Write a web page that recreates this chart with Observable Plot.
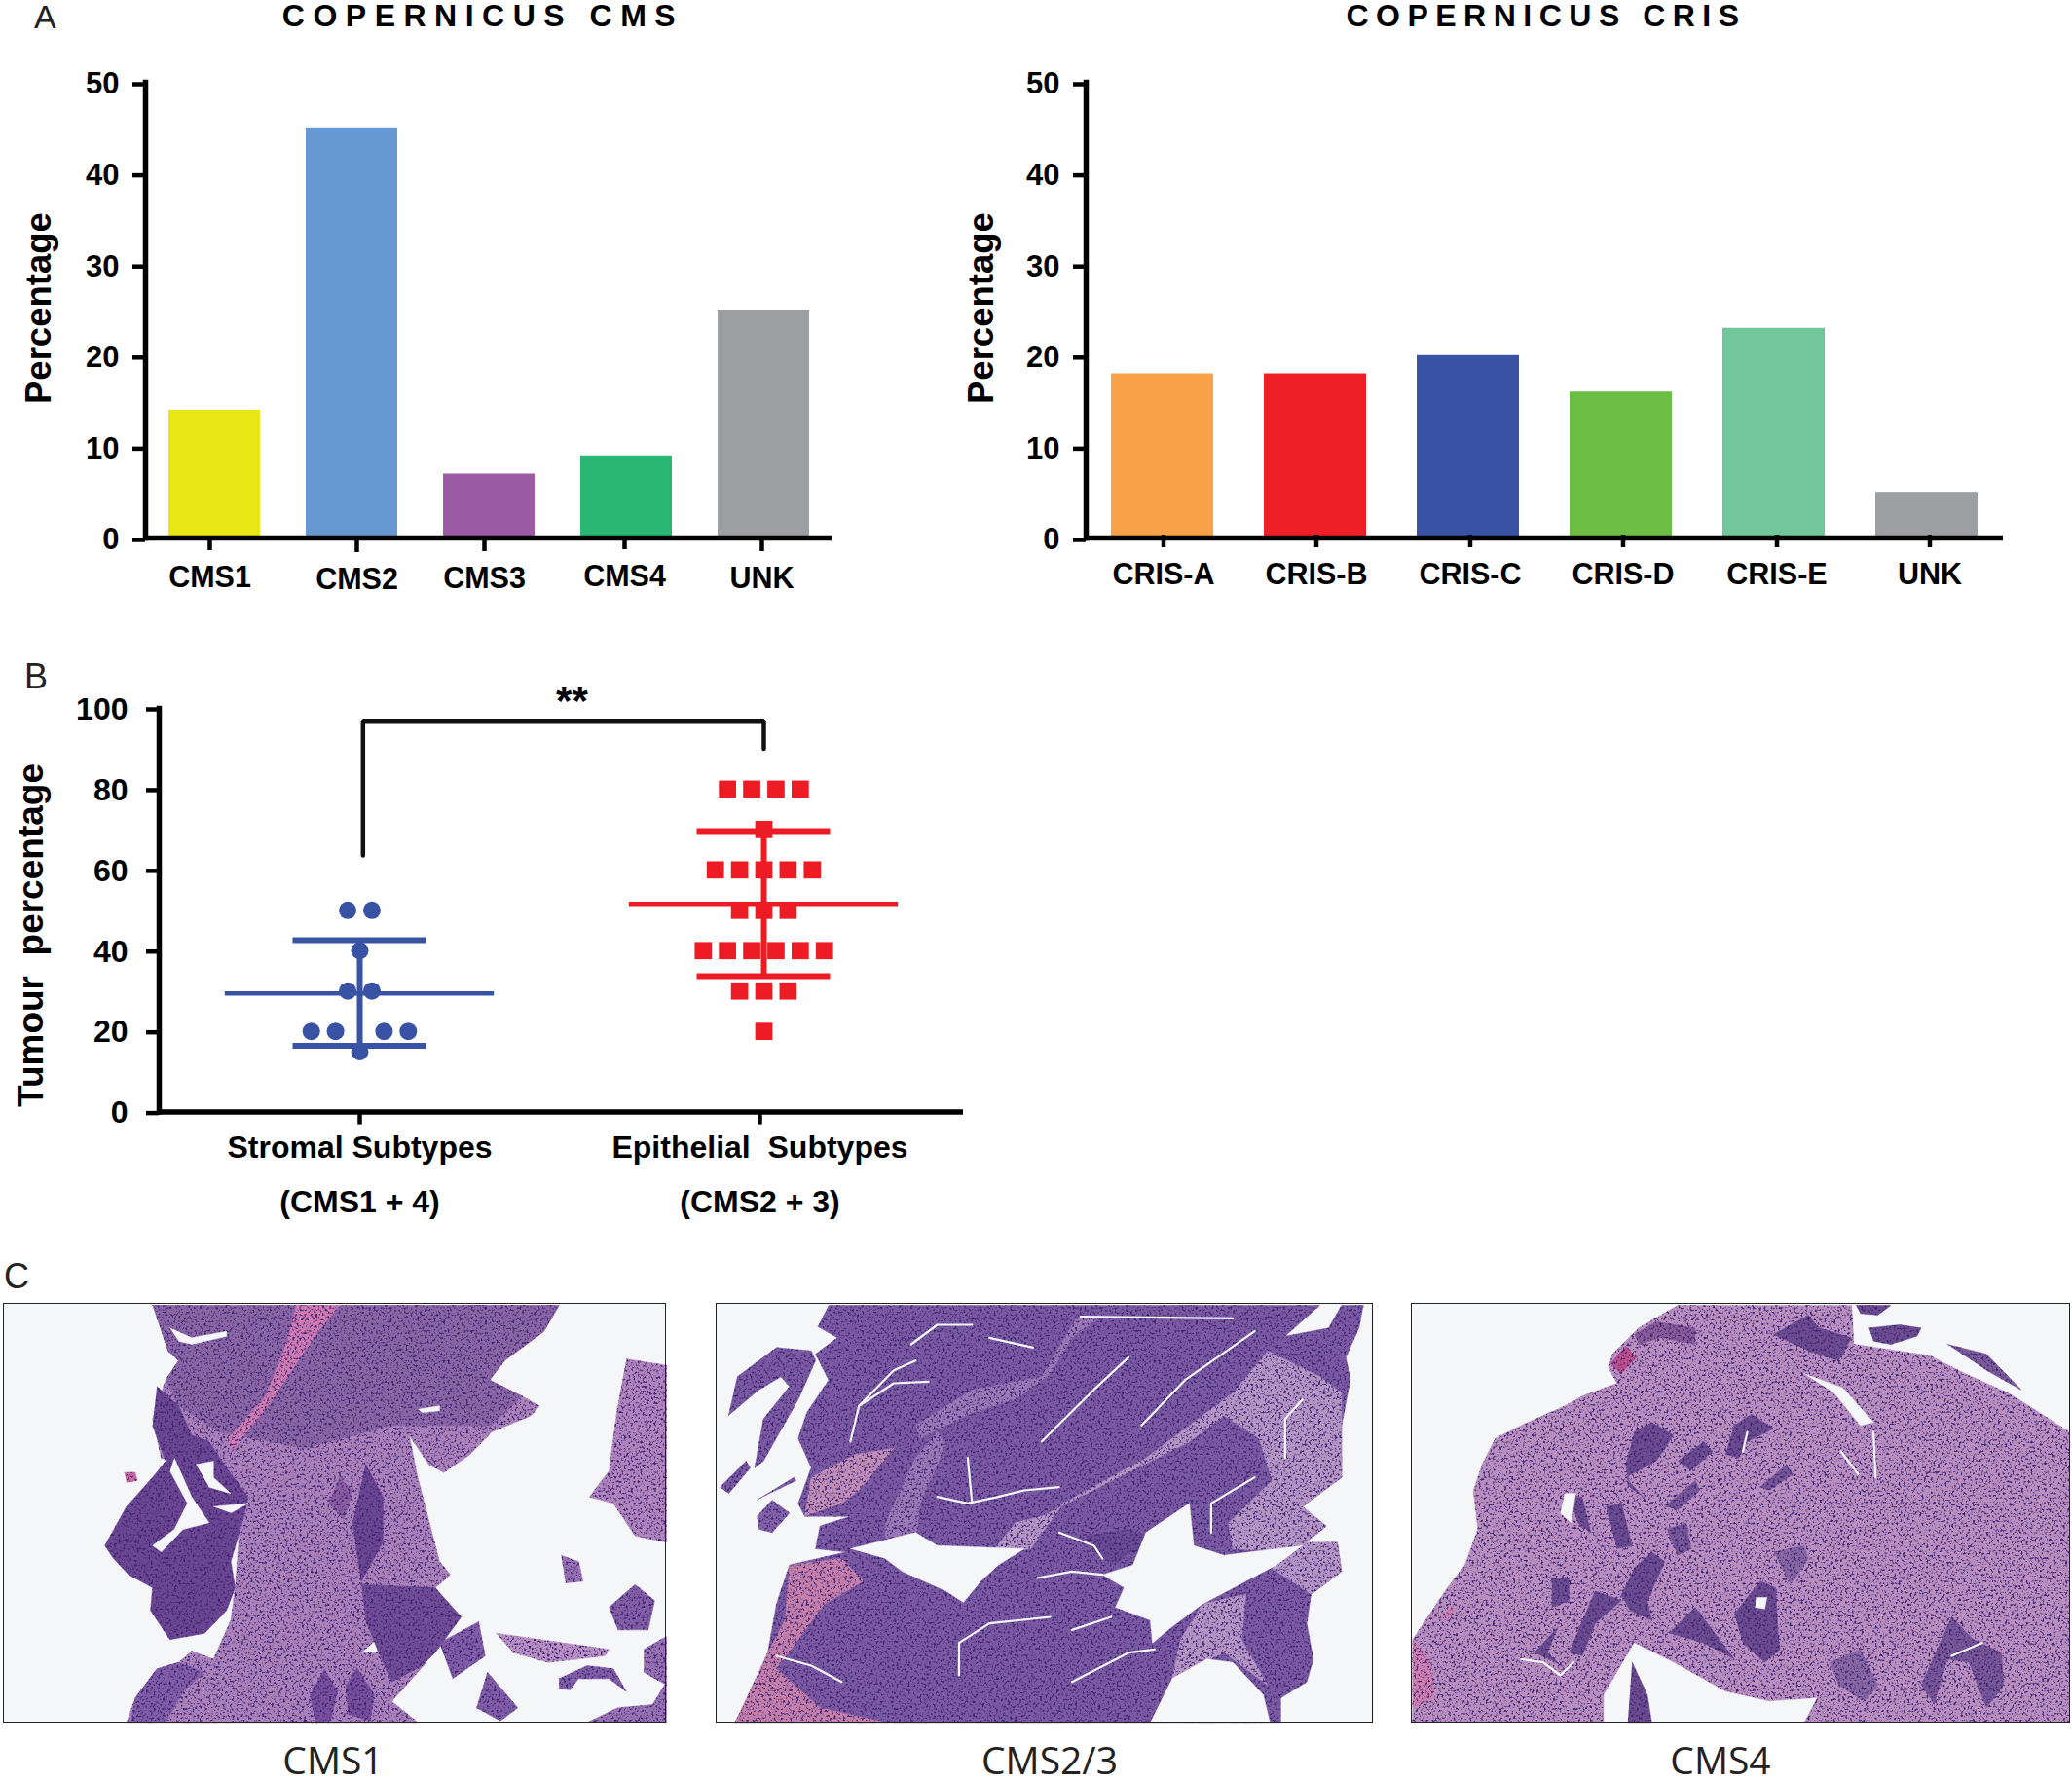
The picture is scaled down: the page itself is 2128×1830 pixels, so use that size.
<!DOCTYPE html>
<html>
<head>
<meta charset="utf-8">
<script src="https://cdn.jsdelivr.net/npm/d3@7"></script>
<script src="https://cdn.jsdelivr.net/npm/@observablehq/plot@0.6"></script>
<style>
html,body{margin:0;padding:0;background:#fff;width:2128px;height:1830px;overflow:hidden}
#page{position:relative;width:2128px;height:1830px}
#page>svg,#page>div{position:absolute}
.title{font:700 32px "Liberation Sans",sans-serif;white-space:pre;line-height:24px;transform:translateX(-50%)}
.tag{font:400 36px "Liberation Sans",sans-serif;color:#222;line-height:26px}
.tagA{font:400 34px "Liberation Sans",sans-serif;color:#222;line-height:26px}
.cap{font:400 39px "Open Sans",sans-serif;color:#222;line-height:40px;transform:translateX(-50%)}
</style>
</head>
<body>
<div id="page"></div>
<script>
// ---------- Panel A data ----------
const cmsCategories = ["CMS1", "CMS2", "CMS3", "CMS4", "UNK"];
const cmsValues = [14, 45, 7, 9, 25];
const cmsColors = ["#e9e615", "#6898d2", "#9d5ba6", "#2bb673", "#9d9fa2"];
const crisCategories = ["CRIS-A", "CRIS-B", "CRIS-C", "CRIS-D", "CRIS-E", "UNK"];
const crisValues = [18, 18, 20, 16, 23, 5];
const crisColors = ["#f9a146", "#ee1f26", "#3953a4", "#6dbe45", "#71c69c", "#9d9fa2"];
const percentTicks = [0, 10, 20, 30, 40, 50];

// ---------- Panel B data (value, slot within the row of a beeswarm) ----------
const stromalValues = [50, 50, 40, 30, 30, 20, 20, 20, 20, 15];
const stromalSlots = [-0.5, 0.5, 0, -0.5, 0.5, -2, -1, 1, 2, 0];
const epithelialValues = [80, 80, 80, 80, 70, 60, 60, 60, 60, 60, 50, 50, 50, 40, 40, 40, 40, 40, 40, 30, 30, 30, 20];
const epithelialSlots = [-1.5, -0.5, 0.5, 1.5, 0, -2, -1, 0, 1, 2, -1, 0, 1, -2.5, -1.5, -0.5, 0.5, 1.5, 2.5, -1, 0, 1, 0];
const groupMeans = [29.4, 51.6];
const groupLower = [16.4, 33.7];
const groupUpper = [42.6, 69.6];
const groupLine1 = ["Stromal Subtypes", "Epithelial  Subtypes"];
const groupLine2 = ["(CMS1 + 4)", "(CMS2 + 3)"];
const tumourTicks = [0, 20, 40, 60, 80, 100];
const bracketPath = [[0.008, 63.6], [0.008, 96.9], [1, 96.9], [1, 90]];

// ---------- Panel C: sketched tissue outlines (crop units) ----------
const cms1Regions = [
  ["#ab82ba", [350,30,1285,30,1250,110,1160,200,1125,260,1200,310,1240,340,1220,370,1130,420,1080,490,1020,545,985,520,940,430,960,560,1010,820,1035,860,1000,900,830,1100,960,1100,980,1130,900,1250,960,1315,290,1315,310,1240,360,1150,410,1130,440,1095,490,1120,530,1000,540,900,550,720,570,620,500,520,370,500,350,380,380,260,410,200,385,170]],
  ["#8b66a6", [350,30,1285,30,1250,110,1160,200,1125,260,1200,310,1130,400,900,400,700,470,500,420,410,340,380,260,410,200,385,170]],
  ["#cf7cb2", [680,30,780,30,730,110,650,270,610,350,530,480,525,440,610,310,660,140]],
  ["#6b4693", [360,280,410,340,440,430,480,450,520,530,570,620,560,680,530,820,540,900,520,970,470,1040,390,1060,345,970,350,900,295,860,260,810,240,770,290,650,350,560,380,510,350,400]],
  ["#6b4693", [840,520,880,620,880,760,830,880,810,700]],
  ["#714d98", [830,890,1000,900,1060,990,1000,1100,970,1140,900,1190,870,1100,840,1000]],
  ["#8a5ca1", [780,560,810,600,790,690,755,640]],
  ["#774f9c", [745,1150,775,1220,760,1310,725,1315,712,1230]],
  ["#774f9c", [820,1145,860,1230,850,1310,800,1290,795,1200]],
  ["#b185bd", [1440,195,1532,215,1532,760,1460,740,1410,640,1355,620,1400,540,1420,340]],
  ["#845fa6", [1400,960,1460,890,1505,940,1490,1030,1420,1030]],
  ["#b890c3", [1140,1040,1400,1090,1390,1110,1260,1130,1180,1100]],
  ["#805da6", [1010,1070,1100,1005,1115,1110,1040,1180]],
  ["#805da6", [1120,1160,1190,1270,1150,1310,1095,1270]],
  ["#805da6", [1285,1180,1350,1140,1410,1150,1440,1220,1400,1180,1330,1180,1310,1215,1285,1210]],
  ["#9871b3", [1480,1090,1532,1050,1532,1200,1480,1160]],
  ["#9871b3", [1290,800,1330,820,1340,880,1300,885]],
  ["#9871b3", [1350,1315,1420,1270,1500,1260,1532,1190,1532,1315]],
  ["#805da6", [300,1315,310,1240,360,1150,410,1130,470,1160,420,1220,380,1315]],
  ["#cc68a2", [285,545,310,545,315,570,290,575]]
];
const cms1Gaps = [
  [400,500,440,620,480,700,420,720,370,790,350,770,400,720,430,640,390,540],
  [490,650,570,640,530,670],
  [450,520,490,510,490,560,530,610,480,590],
  [960,350,1010,340,1010,355,970,360],
  [390,100,440,130,520,110,520,125,440,150,410,140]
];
const cms2Regions = [
  ["#7a5aa2", [270,30,1400,30,1320,125,1420,100,1450,30,1500,30,1490,100,1460,190,1470,260,1450,400,1450,560,1360,650,1415,710,1340,790,1440,760,1450,850,1380,920,1370,1010,1385,1120,1370,1190,1310,1240,1310,1315,55,1315,100,1200,130,1100,150,950,180,830,310,790,240,780,250,710,320,680,215,680,200,640,230,530,200,440,220,360,270,260,240,180,290,130,245,95]],
  ["#b596c5", [1280,170,1400,250,1450,300,1450,560,1360,650,1415,710,1340,790,1200,780,1190,700,1290,570,1260,440,1180,370,1100,450,760,680,700,700,640,800,735,780,810,640,1000,500,1200,300]],
  ["#c580ab", [55,1315,130,1100,170,1000,180,830,300,810,350,880,260,950,150,1150,250,1270,400,1315]],
  ["#c08eb6", [215,680,230,560,330,490,420,470,340,600,300,640]],
  ["#b596c5", [1060,1180,1080,1060,1130,950,1230,920,1220,1060,1280,1200,1180,1100]],
  ["#9a7ab6", [760,250,840,70,900,60,830,130,780,240,700,320,600,360,480,440,470,400,600,290]],
  ["#9a7ab6", [400,700,470,500,520,420,540,460,480,640,470,760,400,760]],
  ["#b596c5", [1290,760,1440,760,1450,850,1380,920,1290,840]],
  ["#7a5aa2", [40,370,60,250,150,160,230,170,240,200,200,320,120,510,100,530,120,380,180,280,160,250,110,290]],
  ["#7a5aa2", [20,590,80,510,90,530,40,610]],
  ["#7a5aa2", [105,630,190,560,195,570,110,625]],
  ["#8263a8", [105,680,140,630,180,670,140,730,110,720]],
  ["#684a95", [860,740,960,720,1060,770,1055,810,960,790,930,830,880,790]],
  ["#684a95", [960,850,1010,830,1015,880,975,895]]
];
const cms2Gaps = [
  [320,780,470,730,520,770,720,780,660,830,620,880,580,945,540,910,440,850,400,810],
  [900,860,970,830,1000,730,1100,640,1110,770,1180,800,1360,770,1300,830,1130,950,1060,1020,1015,1070,1010,1000,930,960,950,900],
  [1060,1180,1140,1120,1200,1130,1270,1230,1285,1315,1010,1315]
];
const cms2Cracks = [
  [320,450,340,340,420,270,500,265],
  [340,340,420,230,470,200],
  [990,400,1090,260,1250,110],
  [760,450,880,290,960,190],
  [1320,500,1320,380,1360,320],
  [520,620,590,640,660,620,720,600,800,590],
  [590,500,600,640],
  [750,870,830,850,900,860],
  [150,1110,230,1140,300,1190],
  [570,1170,570,1070,640,1010,780,990],
  [830,1030,920,990],
  [830,1190,960,1100,1020,1090],
  [640,130,740,160],
  [850,65,1200,70],
  [460,150,520,90,600,90],
  [1150,730,1150,640,1250,560],
  [800,730,880,770,900,810]
];
const cms3Regions = [
  ["#ba90c0", [50,1315,50,1060,130,900,170,830,200,720,190,600,210,520,240,440,300,400,400,340,440,310,520,270,500,220,510,180,570,100,660,30,1060,30,1065,150,1240,185,1320,240,1420,300,1480,350,1560,420,1560,1315]],
  ["#d080b0", [50,1270,100,1240,90,1120,50,1060]],
  ["#d080b0", [110,990,150,950,130,1000]],
  ["#c04f8a", [505,210,540,155,565,190,530,240]],
  ["#6b4c90", [880,120,960,60,985,100,1060,130,1030,200,960,170]],
  ["#6b4c90", [1100,100,1170,90,1220,100,1210,125,1150,150,1110,140]],
  ["#6b4c90", [1070,30,1150,30,1120,60,1080,55]],
  ["#7a5b9a", [1280,150,1370,180,1450,290,1370,230]],
  ["#875c98", [560,120,610,80,700,100,700,150,620,130,570,150]],
  ["#6b4c90", [560,420,600,390,650,430,610,510,540,560,580,620,550,590,540,520]],
  ["#6b4c90", [660,510,720,450,740,480,690,540]],
  ["#6b4c90", [770,490,790,400,830,365,880,410,820,450,800,500]],
  ["#775798", [850,590,910,520,925,550,870,600]],
  ["#775798", [630,650,700,570,710,600,660,660]],
  ["#6b4c90", [495,650,530,640,555,770,520,780]],
  ["#6b4c90", [410,620,440,620,460,730,430,700]],
  ["#775798", [635,720,680,700,690,780,660,800]],
  ["#8767a4", [880,790,950,770,960,810,920,890]],
  ["#6b4c90", [560,840,600,790,630,820,590,940,600,1000,550,970,530,920]],
  ["#6b4c90", [370,870,410,870,410,940,370,960]],
  ["#6b4c90", [410,1100,470,910,530,940,470,1010,440,1110]],
  ["#6b4c90", [330,1100,385,1020,360,1100,400,1150,380,1130]],
  ["#6b4c90", [640,1040,700,960,790,1120,720,1070]],
  ["#6b4c90", [790,980,850,880,885,900,890,1030,895,1090,860,1130,810,1070]],
  ["#775798", [1220,1200,1290,990,1340,1060,1405,1100,1410,1200,1370,1270,1330,1130,1280,1120,1250,1260]],
  ["#8767a4", [1010,1130,1080,1090,1120,1200,1090,1250,1030,1200]]
];
const cms3Gaps = [
  [490,1315,490,1230,560,1070,650,1130,770,1220,870,1250,980,1240,950,1315],
  [950,240,1040,285,1110,390,1080,400,1020,300],
  [400,610,425,610,415,700,390,670],
  [840,930,865,930,860,965,838,960]
];
const cms3Overlay = [
  ["#6b4c90", [555,1130,590,1230,600,1315,545,1315]]
];
const cms3Cracks = [
  [810,480,820,420],
  [300,1120,350,1130,390,1170,420,1130],
  [1290,1110,1360,1070],
  [1035,480,1075,550],
  [1110,420,1115,560]
];

// ---------- Shared helpers ----------
const page = document.getElementById("page");
const place = (node, left, top) => { node.style.left = left + "px"; node.style.top = top + "px"; page.appendChild(node); return node; };
const label = (cls, txt, left, top, spacing) => { const d = document.createElement("div"); d.className = cls; d.textContent = txt; if (spacing) d.style.letterSpacing = spacing + "px"; place(d, left, top); };
const textStyle = {fontFamily: "'Liberation Sans', Arial, sans-serif", fontWeight: 700, fontSize: "31px", background: "transparent", color: "#000", whiteSpace: "pre", overflow: "visible"};

function barPanel({categories, values, colors, left, width, marginLeft, marginRight, nudgeX, nudgeY, yLabelDx}) {
  const rows = categories.map((c, i) => ({c, v: values[i], col: colors[i]}));
  const svg = Plot.plot({
    width, height: 640, marginTop: 84, marginBottom: 88, marginLeft, marginRight, style: textStyle,
    x: {type: "band", domain: categories, paddingInner: 1/3, paddingOuter: 1/6, label: null},
    y: {domain: [0, 50], label: null},
    color: {type: "identity"},
    marks: [
      Plot.barY(rows, {x: "c", y: "v", fill: "col"}),
      Plot.axisY({ticks: percentTicks, tickSize: 13, tickPadding: 14, strokeWidth: 4.5, dy: 2, label: null}),
      ...categories.map((c, i) => Plot.axisX({ticks: [c], tickSize: 13, tickPadding: 16, strokeWidth: 4.5, fontSize: 30.5, dx: nudgeX[i], dy: nudgeY[i], label: null})),
      Plot.frame({anchor: "left", strokeWidth: 5.5}),
      Plot.ruleY([0], {strokeWidth: 5.5}),
      Plot.text(["Percentage"], {y: () => 25.2, frameAnchor: "left", dx: yLabelDx, rotate: -90, textAnchor: "middle", fontSize: 36.5, fontWeight: 700})
    ]
  });
  place(svg, left, 0);
}

const NS = "http://www.w3.org/2000/svg";
function tissuePanel({regions, gaps, overlay = [], cracks = [], left, right, filterId}) {
  const pts = (flat, id) => d3.range(0, flat.length, 2).map(i => ({x: flat[i], y: flat[i + 1], id}));
  const paper = "#f5f6f7";
  // a line whose stroke is "none" is dropped by Plot, so each outline carries a hairline of its own colour
  const polygon = (r, i) => Plot.line(pts(r[1], i), {x: "x", y: "y", fill: r[0], stroke: r[0], strokeWidth: 0.5});
  const svg = Plot.plot({
    width: 700, height: 450, margin: 0, axis: null,
    x: {domain: [0, 1568], range: [0, 700]},
    y: {domain: [0, 1350], range: [0, 450]},
    style: {background: "transparent"},
    marks: [
      Plot.rect([{}], {x1: () => left, x2: () => right, y1: () => 28, y2: () => 1316, fill: paper, stroke: "none"}),
      ...regions.map(polygon),
      ...gaps.map((g, i) => Plot.line(pts(g, i), {x: "x", y: "y", fill: paper, stroke: paper, strokeWidth: 0.5})),
      ...overlay.map(polygon),
      Plot.line(cracks.flatMap((f, i) => pts(f, i)), {x: "x", y: "y", z: "id", stroke: paper, strokeWidth: 2.2})
    ]
  });
  const defs = document.createElementNS(NS, "defs");
  defs.innerHTML = `<filter id="${filterId}" filterUnits="userSpaceOnUse" x="0" y="0" width="700" height="450" color-interpolation-filters="sRGB">
    <feTurbulence type="fractalNoise" baseFrequency="0.42" numOctaves="2" seed="7" result="n"/>
    <feColorMatrix in="n" type="matrix" values="0 0 0 0 0.24  0 0 0 0 0.14  0 0 0 0 0.44  5 0 0 0 -2.6" result="d"/>
    <feComposite in="d" in2="SourceAlpha" operator="in" result="dots"/>
    <feMerge><feMergeNode in="SourceGraphic"/><feMergeNode in="dots"/></feMerge>
  </filter>`;
  svg.insertBefore(defs, svg.firstChild);
  svg.querySelectorAll('g[aria-label="line"]').forEach(g => {
    const f = g.getAttribute("fill");
    if (f && f !== paper && f !== "none") g.setAttribute("filter", `url(#${filterId})`);
  });
  return svg;
}

// ---------- Panel A ----------
barPanel({categories: cmsCategories, values: cmsValues, colors: cmsColors, left: 0, width: 900, marginLeft: 149, marginRight: 46,
  nudgeX: [-5, 5, -5, -2, -2], nudgeY: [0, 2, 1, -1, 1], yLabelDx: -109});
barPanel({categories: crisCategories, values: crisValues, colors: crisColors, left: 960, width: 1168, marginLeft: 155, marginRight: 71,
  nudgeX: [1, 1, 2, 2, 3, 3], nudgeY: [-3, -3, -3, -3, -3, -3], yLabelDx: -107});
label("title", "COPERNICUS CMS", 496, 4, 8.5);
label("title", "COPERNICUS CRIS", 1588, 4, 7.5);
label("tagA", "A", 35, 4);
label("tag", "B", 25, 682);
label("tag", "C", 4, 1298);

// ---------- Panel B ----------
const slotWidth = 0.06;
const groupX = [0, 1];
const stromal = stromalValues.map((v, i) => ({x: slotWidth * stromalSlots[i], v}));
const epithelial = epithelialValues.map((v, i) => ({x: 1 + slotWidth * epithelialSlots[i], v}));
const blue = "#3953a4", red = "#ed1c24";
const summary = (g, color) => [
  Plot.ruleY([groupMeans[g]], {x1: groupX[g] - 0.333, x2: groupX[g] + 0.333, stroke: color, strokeWidth: 4.5}),
  Plot.ruleY([groupLower[g], groupUpper[g]], {x1: groupX[g] - 0.165, x2: groupX[g] + 0.165, stroke: color, strokeWidth: 6}),
  Plot.ruleX([groupX[g]], {y1: groupLower[g], y2: groupUpper[g], stroke: color, strokeWidth: 6})
];
const bracket = bracketPath.map(([x, y]) => ({x, y}));
const svgB = Plot.plot({
  width: 1064, height: 640, marginTop: 67, marginBottom: 158.4, marginLeft: 163, marginRight: 75, style: textStyle,
  x: {domain: [-206 / 415, 620 / 415], label: null},
  y: {domain: [0, 100], label: null},
  marks: [
    ...summary(0, blue),
    ...summary(1, red),
    Plot.dot(stromal, {x: "x", y: "v", r: 9, fill: blue, symbol: "circle"}),
    Plot.dot(epithelial, {x: "x", y: "v", r: 10, fill: red, symbol: "square"}),
    Plot.line(bracket, {x: "x", y: "y", stroke: "#111", strokeWidth: 4.5, curve: "linear", strokeLinejoin: "miter"}),
    Plot.text(["**"], {x: () => 0.525, y: () => 98.5, lineAnchor: "bottom", fontSize: 42, fontWeight: 700}),
    Plot.axisY({ticks: tumourTicks, tickSize: 13, tickPadding: 19, strokeWidth: 4.5, fontSize: 32, dy: 1, label: null}),
    Plot.axisX({ticks: [0], tickFormat: () => groupLine1[0], tickSize: 13, tickPadding: 11, strokeWidth: 4.5, fontSize: 32, label: null}),
    Plot.axisX({ticks: [1], tickFormat: () => groupLine1[1], tickSize: 13, tickPadding: 11, strokeWidth: 4.5, dx: -4, fontSize: 32, label: null}),
    Plot.axisX({ticks: [0], tickFormat: () => groupLine2[0], tickSize: 0, tickPadding: 80, fontSize: 32, label: null}),
    Plot.axisX({ticks: [1], tickFormat: () => groupLine2[1], tickSize: 0, tickPadding: 80, dx: -4, fontSize: 32, label: null}),
    Plot.frame({anchor: "left", strokeWidth: 5.5}),
    Plot.ruleY([0], {strokeWidth: 5.5}),
    Plot.text(["Tumour  percentage"], {y: () => 43.8, frameAnchor: "left", dx: -131, rotate: -90, textAnchor: "middle", fontSize: 37, fontWeight: 700})
  ]
});
place(svgB, 0, 660);

// ---------- Panel C ----------
place(tissuePanel({regions: cms1Regions, gaps: cms1Gaps, left: 8, right: 1532, filterId: "grain1"}), 0, 1330);
place(tissuePanel({regions: cms2Regions, gaps: cms2Gaps, cracks: cms2Cracks, left: 12, right: 1525, filterId: "grain2"}), 730, 1330);
place(tissuePanel({regions: cms3Regions, gaps: cms3Gaps, overlay: cms3Overlay, cracks: cms3Cracks, left: 50, right: 1560, filterId: "grain3"}), 1428, 1330);
[[3, 681], [735, 675], [1449, 677]].forEach(([l, w]) => {
  const b = document.createElement("div");
  b.style.cssText = `width:${w}px;height:431px;border:1.5px solid #222;box-sizing:border-box`;
  place(b, l, 1338);
});
label("cap", "CMS1", 342, 1787);
label("cap", "CMS2/3", 1078, 1787);
label("cap", "CMS4", 1767, 1787);
</script>
</body>
</html>
